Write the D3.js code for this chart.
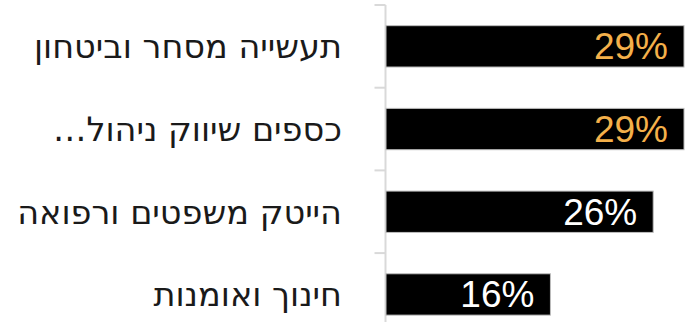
<!DOCTYPE html>
<html>
<head>
<meta charset="utf-8">
<script src="https://cdn.jsdelivr.net/npm/d3@7"></script>
<style>
  body { margin: 0; background: #fff; }
  svg { display: block; }
</style>
</head>
<body>
<svg class="chart"></svg>
<script>
var width = 689, height = 322;

// data
var categories = ["תעשייה מסחר וביטחון", "כספים שיווק ניהול…", "הייטק משפטים ורפואה", "חינוך ואומנות"];
var shares = [0.29, 0.29, 0.26, 0.16];
var highlighted = [true, true, false, false];

var rows = categories.map((c, i) => ({name: c, value: shares[i], hot: highlighted[i]}));

var axisX = 385.5;

var y = d3.scaleBand()
    .domain(categories)
    .range([5, 5 + 4 * 82.7])
    .paddingInner(0.5)
    .paddingOuter(0.25);

var x = d3.scaleLinear()
    .domain([0, 0.3])
    .range([386, 694.3]);

var fmt = d3.format(".0%");

var svg = d3.select('.chart')
    .attr("width", width)
    .attr("height", height);

// axis line + ticks between bands
var axis = svg.append("g")
    .attr("stroke", "#d9d9d9")
    .attr("stroke-width", 2);

axis.append("line")
    .attr("x1", axisX).attr("x2", axisX)
    .attr("y1", y.range()[0]).attr("y2", y.range()[1]);

axis.selectAll(".tick")
    .data(categories)
    .join("line")
        .attr("class", "tick")
        .attr("x1", axisX - 11).attr("x2", axisX)
        .attr("y1", d => y(d) - y.step() * 0.25)
        .attr("y2", d => y(d) - y.step() * 0.25);

// bars
svg.append("g")
    .selectAll("rect")
    .data(rows)
    .join("rect")
        .attr("x", x(0))
        .attr("y", d => y(d.name))
        .attr("width", d => x(d.value) - x(0))
        .attr("height", y.bandwidth())
        .attr("fill", "#000")
        .attr("stroke", "#bfbfbf")
        .attr("stroke-width", 1);

// value labels
svg.append("g")
    .attr("font-family", "'Liberation Sans', Arial, sans-serif")
    .attr("font-size", 37)
    .attr("text-anchor", "end")
    .selectAll("text")
    .data(rows)
    .join("text")
        .attr("x", d => x(d.value) - 16)
        .attr("y", d => y(d.name) + y.bandwidth() / 2 + 13)
        .attr("fill", d => d.hot ? "#f4b04a" : "#fff")
        .text(d => fmt(d.value));

// category labels
svg.append("g")
    .attr("font-family", "'DejaVu Sans', sans-serif")
    .attr("font-size", 33.5)
    .attr("fill", "#1a1a1a")
    .attr("direction", "rtl")
    .attr("text-anchor", "start")
    .selectAll("text")
    .data(rows)
    .join("text")
        .attr("x", 342)
        .attr("y", d => y(d.name) + y.bandwidth() / 2 + 12)
        .text(d => d.name);
</script>
</body>
</html>
